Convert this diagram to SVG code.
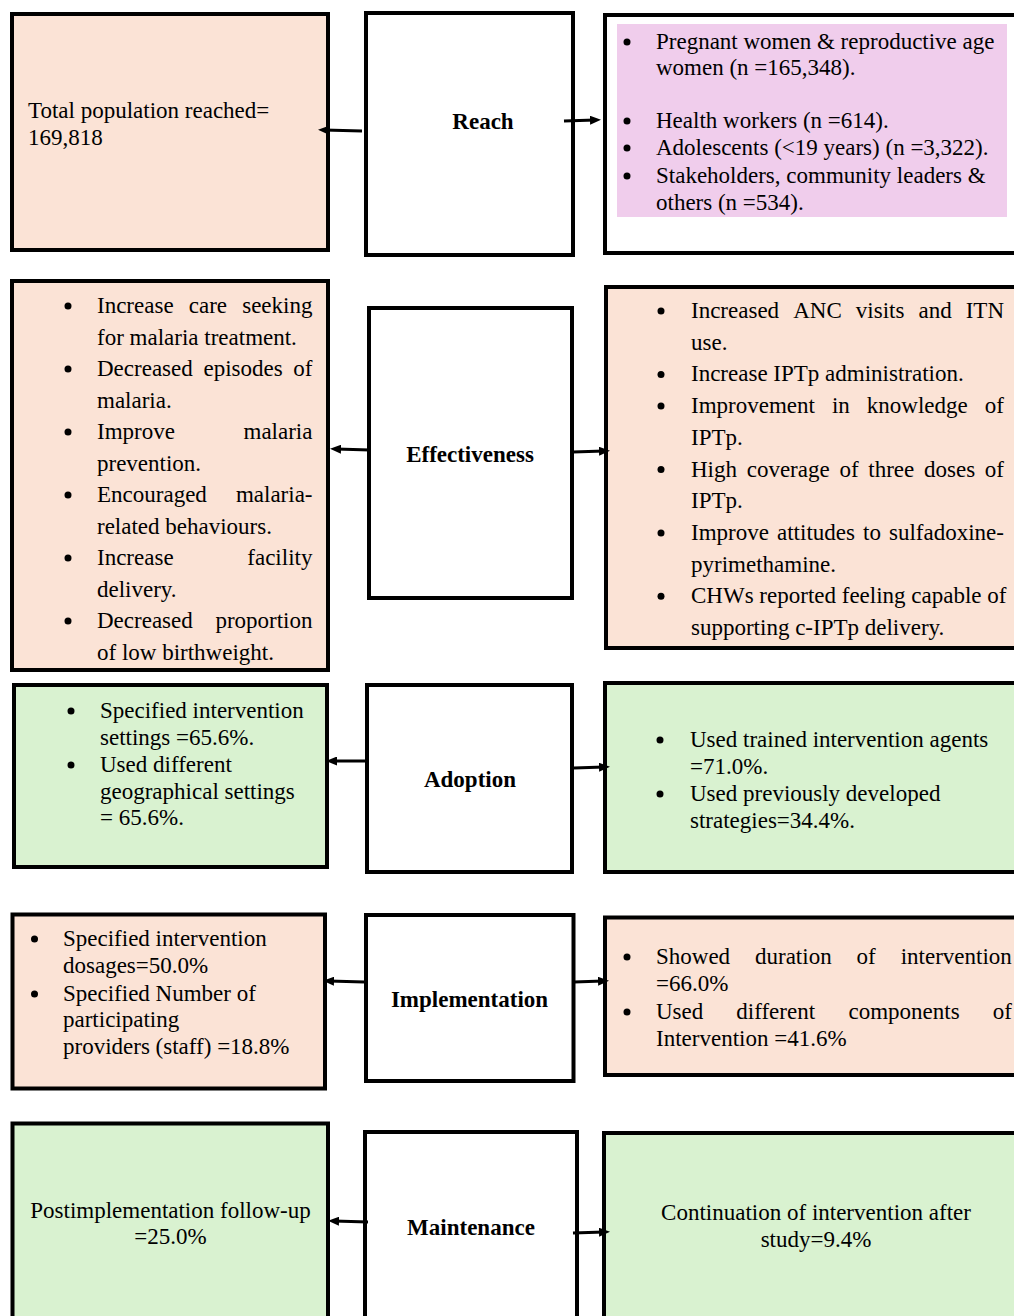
<svg xmlns="http://www.w3.org/2000/svg" width="1014" height="1316" viewBox="0 0 1014 1316">
<style>
.box{stroke:#000;stroke-width:4}
.peach{fill:#fbe3d6}
.green{fill:#d9f2d0}
.white{fill:#fff}
.t{font-family:"Liberation Serif","Times New Roman",serif;font-size:23px;fill:#000}
.b{font-weight:bold}
.m{text-anchor:middle}
.dot{fill:#000}
.conn{stroke:#000;stroke-width:3;fill:none}
</style>
<defs>
<marker id="ah" viewBox="0 0 11 9" refX="5" refY="4.5" markerWidth="11" markerHeight="9" markerUnits="userSpaceOnUse" orient="auto">
<path d="M0,0 L11,4.5 L0,9 z" fill="#000"/>
</marker>
</defs>
<rect width="1014" height="1316" fill="#fff"/>

<g id="reach-left">
<rect class="box peach" x="12" y="14" width="316" height="236"/>
<text class="t" x="28" y="118">Total population reached=</text>
<text class="t" x="28" y="145">169,818</text>
</g>
<g id="reach">
<rect class="box white" x="366" y="13" width="207" height="242"/>
<text class="t b m" x="483" y="129">Reach</text>
</g>
<g id="reach-right">
<rect class="box white" x="605" y="15" width="415" height="238"/>
<rect x="617" y="24" width="390" height="193" fill="#f0cdec"/>
<circle class="dot" cx="627" cy="42" r="3.5"/>
<circle class="dot" cx="627" cy="121" r="3.5"/>
<circle class="dot" cx="627" cy="148" r="3.5"/>
<circle class="dot" cx="627" cy="176" r="3.5"/>
<text class="t" x="656" y="49">Pregnant women &amp; reproductive age</text>
<text class="t" x="656" y="75">women (n =165,348).</text>
<text class="t" x="656" y="128">Health workers (n =614).</text>
<text class="t" x="656" y="155">Adolescents (&lt;19 years) (n =3,322).</text>
<text class="t" x="656" y="183">Stakeholders, community leaders &amp;</text>
<text class="t" x="656" y="210">others (n =534).</text>
</g>

<g id="effectiveness-left">
<rect class="box peach" x="12" y="281" width="316" height="389"/>
<circle class="dot" cx="68" cy="306" r="3.5"/>
<circle class="dot" cx="68" cy="369" r="3.5"/>
<circle class="dot" cx="68" cy="432" r="3.5"/>
<circle class="dot" cx="68" cy="495" r="3.5"/>
<circle class="dot" cx="68" cy="558" r="3.5"/>
<circle class="dot" cx="68" cy="621" r="3.5"/>
<text class="t" y="313"><tspan x="97">Increase</tspan><tspan x="188.8">care</tspan><tspan x="242.2">seeking</tspan></text>
<text class="t" x="97" y="344.5">for malaria treatment.</text>
<text class="t" y="376"><tspan x="97">Decreased</tspan><tspan x="203.5">episodes</tspan><tspan x="293.3">of</tspan></text>
<text class="t" x="97" y="407.5">malaria.</text>
<text class="t" y="439"><tspan x="97">Improve</tspan><tspan x="243.5">malaria</tspan></text>
<text class="t" x="97" y="470.5">prevention.</text>
<text class="t" y="502"><tspan x="97">Encouraged</tspan><tspan x="235.9">malaria-</tspan></text>
<text class="t" x="97" y="533.5">related behaviours.</text>
<text class="t" y="565"><tspan x="97">Increase</tspan><tspan x="247.3">facility</tspan></text>
<text class="t" x="97" y="596.5">delivery.</text>
<text class="t" y="628"><tspan x="97">Decreased</tspan><tspan x="215.4">proportion</tspan></text>
<text class="t" x="97" y="659.5">of low birthweight.</text>
</g>
<g id="effectiveness">
<rect class="box white" x="369" y="308" width="203" height="290"/>
<text class="t b m" x="470" y="462">Effectiveness</text>
</g>
<g id="effectiveness-right">
<rect class="box peach" x="606" y="287" width="414" height="361"/>
<circle class="dot" cx="661" cy="311" r="3.5"/>
<circle class="dot" cx="661" cy="374.4" r="3.5"/>
<circle class="dot" cx="661" cy="406.1" r="3.5"/>
<circle class="dot" cx="661" cy="469.5" r="3.5"/>
<circle class="dot" cx="661" cy="532.9" r="3.5"/>
<circle class="dot" cx="661" cy="596.3" r="3.5"/>
<text class="t" y="318"><tspan x="691">Increased</tspan><tspan x="793.2">ANC</tspan><tspan x="855.8">visits</tspan><tspan x="918.5">and</tspan><tspan x="965.7">ITN</tspan></text>
<text class="t" x="691" y="349.7">use.</text>
<text class="t" x="691" y="381.4">Increase IPTp administration.</text>
<text class="t" y="413.1"><tspan x="691">Improvement</tspan><tspan x="831.9">in</tspan><tspan x="866.8">knowledge</tspan><tspan x="984.8">of</tspan></text>
<text class="t" x="691" y="444.8">IPTp.</text>
<text class="t" y="476.5"><tspan x="691">High</tspan><tspan x="746.7">coverage</tspan><tspan x="839.4">of</tspan><tspan x="868.3">three</tspan><tspan x="924">doses</tspan><tspan x="984.8">of</tspan></text>
<text class="t" x="691" y="508.2">IPTp.</text>
<text class="t" y="539.9"><tspan x="691">Improve</tspan><tspan x="777">attitudes</tspan><tspan x="863">to</tspan><tspan x="889">sulfadoxine-</tspan></text>
<text class="t" x="691" y="571.6">pyrimethamine.</text>
<text class="t" x="691" y="603.3">CHWs reported feeling capable of</text>
<text class="t" x="691" y="635">supporting c-IPTp delivery.</text>
</g>

<g id="adoption-left">
<rect class="box green" x="14" y="685" width="313" height="182"/>
<circle class="dot" cx="71" cy="711" r="3.5"/>
<circle class="dot" cx="71" cy="765" r="3.5"/>
<text class="t" x="100" y="718">Specified intervention</text>
<text class="t" x="100" y="745">settings =65.6%.</text>
<text class="t" x="100" y="772">Used different</text>
<text class="t" x="100" y="799">geographical settings</text>
<text class="t" x="100" y="825">= 65.6%.</text>
</g>
<g id="adoption">
<rect class="box white" x="367" y="685" width="205" height="187"/>
<text class="t b m" x="470" y="787">Adoption</text>
</g>
<g id="adoption-right">
<rect class="box green" x="605" y="683" width="415" height="189"/>
<circle class="dot" cx="660" cy="740" r="3.5"/>
<circle class="dot" cx="660" cy="794" r="3.5"/>
<text class="t" x="690" y="747">Used trained intervention agents</text>
<text class="t" x="690" y="774">=71.0%.</text>
<text class="t" x="690" y="801">Used previously developed</text>
<text class="t" x="690" y="828">strategies=34.4%.</text>
</g>

<g id="implementation-left">
<rect class="box peach" x="12.5" y="914.5" width="312.5" height="174"/>
<circle class="dot" cx="34.5" cy="939" r="3.5"/>
<circle class="dot" cx="34.5" cy="994" r="3.5"/>
<text class="t" x="63" y="946">Specified intervention</text>
<text class="t" x="63" y="973">dosages=50.0%</text>
<text class="t" x="63" y="1001">Specified Number of</text>
<text class="t" x="63" y="1027">participating</text>
<text class="t" x="63" y="1054">providers (staff) =18.8%</text>
</g>
<g id="implementation">
<rect class="box white" x="366" y="915" width="207.5" height="166"/>
<text class="t b m" x="469.5" y="1007">Implementation</text>
</g>
<g id="implementation-right">
<rect class="box peach" x="605" y="917.5" width="415" height="157.5"/>
<circle class="dot" cx="627" cy="957" r="3.5"/>
<circle class="dot" cx="627" cy="1012" r="3.5"/>
<text class="t" y="964"><tspan x="656">Showed</tspan><tspan x="755">duration</tspan><tspan x="856.6">of</tspan><tspan x="900.7">intervention</tspan></text>
<text class="t" x="656" y="991">=66.0%</text>
<text class="t" y="1019"><tspan x="656">Used</tspan><tspan x="736.3">different</tspan><tspan x="848.5">components</tspan><tspan x="992.8">of</tspan></text>
<text class="t" x="656" y="1046">Intervention =41.6%</text>
</g>

<g id="maintenance-left">
<rect class="box green" x="12.5" y="1123.5" width="315.5" height="200"/>
<text class="t m" x="170.5" y="1218">Postimplementation follow-up</text>
<text class="t m" x="170.5" y="1244">=25.0%</text>
</g>
<g id="maintenance">
<rect class="box white" x="365" y="1132" width="212" height="190"/>
<text class="t b m" x="471" y="1235">Maintenance</text>
</g>
<g id="maintenance-right">
<rect class="box green" x="604" y="1133" width="416" height="190"/>
<text class="t m" x="816" y="1220">Continuation of intervention after</text>
<text class="t m" x="816" y="1247">study=9.4%</text>
</g>

<g id="connectors">
<line class="conn" x1="362" y1="131" x2="324" y2="130" marker-end="url(#ah)"/>
<line class="conn" x1="564" y1="121" x2="595" y2="120" marker-end="url(#ah)"/>
<line class="conn" x1="370" y1="450" x2="336" y2="449" marker-end="url(#ah)"/>
<line class="conn" x1="573" y1="452" x2="604" y2="451" marker-end="url(#ah)"/>
<line class="conn" x1="366" y1="761" x2="332" y2="761" marker-end="url(#ah)"/>
<line class="conn" x1="574" y1="768" x2="604" y2="767" marker-end="url(#ah)"/>
<line class="conn" x1="364" y1="982" x2="329" y2="981" marker-end="url(#ah)"/>
<line class="conn" x1="574" y1="982" x2="603" y2="981" marker-end="url(#ah)"/>
<line class="conn" x1="368" y1="1222" x2="334" y2="1221" marker-end="url(#ah)"/>
<line class="conn" x1="573" y1="1233" x2="604" y2="1232" marker-end="url(#ah)"/>
</g>
</svg>
